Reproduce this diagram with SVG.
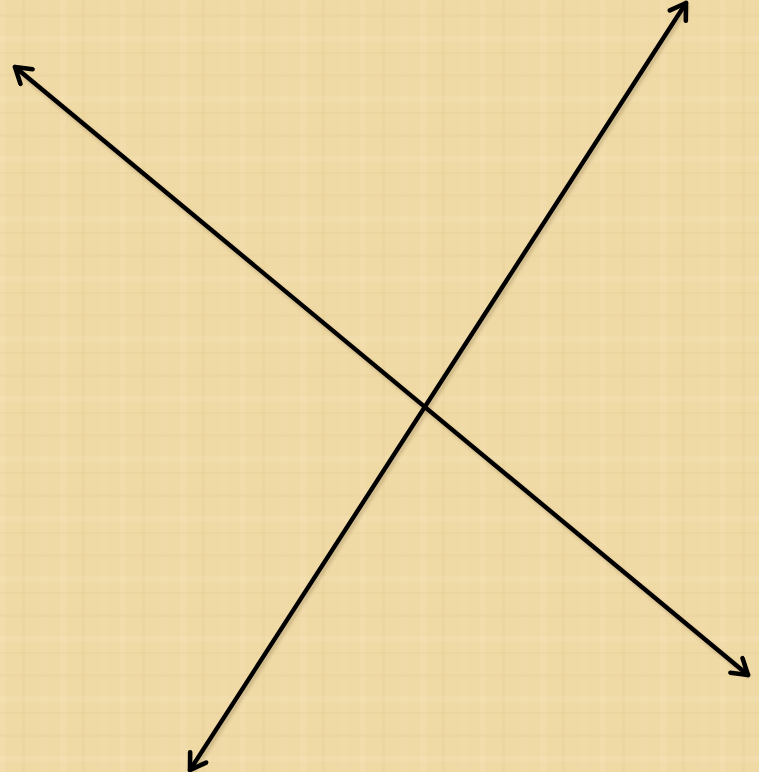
<svg xmlns="http://www.w3.org/2000/svg" width="759" height="772" viewBox="0 0 759 772">
<defs>
<style>
.ln{stroke:#000;stroke-width:4.4;fill:none;stroke-linecap:round;marker-start:url(#ah);marker-end:url(#ah)}
.sh{stroke:#6b5a30;stroke-opacity:0.25;stroke-width:5;fill:none;filter:url(#blur)}
</style>
<filter id="blur" x="-5%" y="-5%" width="110%" height="110%"><feGaussianBlur stdDeviation="1.5"/></filter>
<marker id="ah" markerUnits="userSpaceOnUse" viewBox="0 0 24 24" markerWidth="24" markerHeight="24" refX="19" refY="12" orient="auto-start-reverse">
<path d="M4,2.5 L19,12 L4,21.5" fill="none" stroke="#000" stroke-width="4.6" stroke-linecap="round" stroke-linejoin="round"/>
</marker>
<pattern id="tex" width="60" height="60" patternUnits="userSpaceOnUse">
<rect width="60" height="60" fill="#EFD9A5"/>
<rect x="0" y="0" width="6" height="60" fill="#F5E3B6" opacity="0.35"/>
<rect x="22" y="0" width="3" height="60" fill="#E4C98C" opacity="0.25"/>
<rect x="40" y="0" width="8" height="60" fill="#F3DFAE" opacity="0.3"/>
<rect x="0" y="14" width="60" height="3" fill="#E6CD92" opacity="0.25"/>
<rect x="0" y="36" width="60" height="6" fill="#F6E5BA" opacity="0.3"/>
<rect x="0" y="52" width="60" height="2" fill="#E3C88B" opacity="0.2"/>
</pattern>
</defs>
<rect width="759" height="772" fill="url(#tex)"/>
<g id="connectors">
<line class="sh" x1="18" y1="71" x2="749" y2="677"/>
<line class="sh" x1="688" y1="6" x2="192" y2="773"/>
<line id="line1" class="ln" x1="15" y1="67" x2="748" y2="675"/>
<line id="line2" class="ln" x1="686" y1="3" x2="190" y2="770"/>
</g>
</svg>
